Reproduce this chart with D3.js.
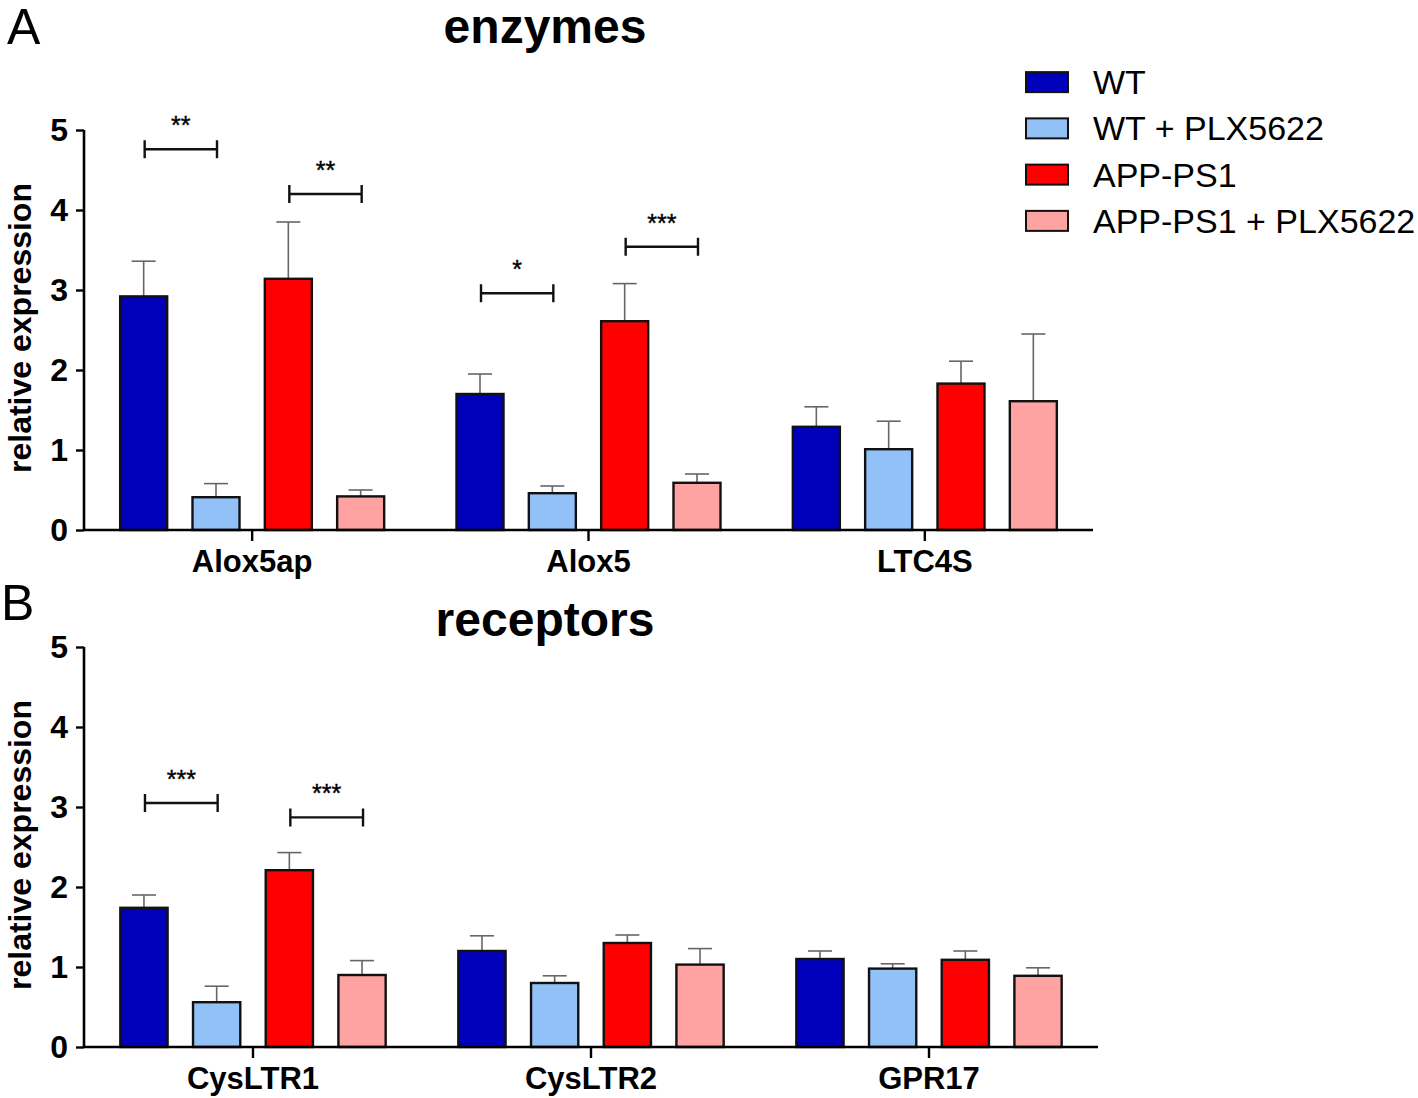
<!DOCTYPE html>
<html><head><meta charset="utf-8">
<script src="https://cdn.jsdelivr.net/npm/d3@7"></script>
<style>body{margin:0;background:#fff}svg{display:block}</style>
</head><body>
<svg id="c" width="1418" height="1098"></svg>
<script>
const series = ["WT", "WT + PLX5622", "APP-PS1", "APP-PS1 + PLX5622"];
const colors = ["#0000BB", "#92C1F8", "#FF0000", "#FFA2A2"];
const yTicks = [0, 1, 2, 3, 4, 5];

const enzymeGenes = ["Alox5ap", "Alox5", "LTC4S"];
const enzymeMeans = [[2.92, 0.41, 3.14, 0.42], [1.70, 0.46, 2.61, 0.59], [1.29, 1.01, 1.83, 1.61]];
const enzymeSEM = [[0.44, 0.17, 0.71, 0.08], [0.25, 0.09, 0.47, 0.11], [0.25, 0.35, 0.28, 0.84]];
const enzymeSig = [
  {g: 0, a: 0, b: 1, y: 4.76, label: "**"},
  {g: 0, a: 2, b: 3, y: 4.20, label: "**"},
  {g: 1, a: 0, b: 1, y: 2.96, label: "*"},
  {g: 1, a: 2, b: 3, y: 3.54, label: "***"}
];

const receptorGenes = ["CysLTR1", "CysLTR2", "GPR17"];
const receptorMeans = [[1.74, 0.56, 2.21, 0.90], [1.20, 0.80, 1.30, 1.03], [1.10, 0.98, 1.09, 0.89]];
const receptorSEM = [[0.16, 0.20, 0.22, 0.18], [0.19, 0.09, 0.10, 0.20], [0.10, 0.06, 0.11, 0.10]];
const receptorSig = [
  {g: 0, a: 0, b: 1, y: 3.05, label: "***"},
  {g: 0, a: 2, b: 3, y: 2.87, label: "***"}
];

const svg = d3.select("#c");
const FONT = "'Liberation Sans', Arial, sans-serif";

function panel(opt) {
  const {genes, means, sem, sig, x0, x1End, yTop, yBottom, title, titleY, letter, letterX, letterY} = opt;
  const g = svg.append("g");
  const y = d3.scaleLinear().domain([0, 5]).range([yBottom, yTop]);
  const xg = d3.scaleBand().domain(genes).range([x0, x1End]).padding(0);
  const xs = d3.scaleBand().domain(d3.range(series.length)).range([0, xg.bandwidth()])
    .paddingInner(0.35).paddingOuter(0.5);

  // error bars
  genes.forEach((gene, gi) => {
    means[gi].forEach((m, si) => {
      const cx = xg(gene) + xs(si) + xs.bandwidth() / 2;
      const top = y(m + sem[gi][si]);
      g.append("line").attr("x1", cx).attr("x2", cx).attr("y1", y(m)).attr("y2", top)
        .attr("stroke", "#666").attr("stroke-width", 1.6);
      g.append("line").attr("x1", cx - 12).attr("x2", cx + 12).attr("y1", top).attr("y2", top)
        .attr("stroke", "#666").attr("stroke-width", 1.6);
    });
  });
  // bars
  genes.forEach((gene, gi) => {
    g.selectAll(null).data(means[gi]).enter().append("rect")
      .attr("x", (d, si) => xg(gene) + xs(si))
      .attr("width", xs.bandwidth())
      .attr("y", d => y(d))
      .attr("height", d => y(0) - y(d))
      .attr("fill", (d, si) => colors[si])
      .attr("stroke", "#111").attr("stroke-width", 2.4);
  });

  // y axis
  const ya = g.append("g").attr("transform", `translate(${x0},0)`)
    .call(d3.axisLeft(y).tickValues(yTicks).tickFormat(d3.format("d")).tickSize(8).tickPadding(8));
  ya.select(".domain").attr("stroke", "#000").attr("stroke-width", 2.6).attr("d", `M0,${yBottom}V${yTop}`);
  ya.selectAll(".tick line").attr("stroke", "#000").attr("stroke-width", 2.4);
  ya.selectAll(".tick text").attr("font-family", FONT).attr("font-weight", "bold")
    .attr("font-size", 32).attr("fill", "#000");

  // x axis
  const xa = g.append("g").attr("transform", `translate(0,${yBottom})`)
    .call(d3.axisBottom(xg).tickSize(11).tickPadding(9));
  xa.select(".domain").attr("stroke", "#000").attr("stroke-width", 2.6).attr("d", `M${x0},0H${x1End}`);
  xa.selectAll(".tick line").attr("stroke", "#000").attr("stroke-width", 2.4);
  xa.selectAll(".tick text").attr("font-family", FONT).attr("font-weight", "bold")
    .attr("font-size", 31).attr("fill", "#000");

  // y title
  g.append("text").attr("transform", `translate(31,${(yTop + yBottom) / 2 - 2}) rotate(-90)`)
    .attr("text-anchor", "middle").attr("font-family", FONT).attr("font-weight", "bold")
    .attr("font-size", 32).text("relative expression");

  // title
  g.append("text").attr("x", 545).attr("y", titleY).attr("text-anchor", "middle")
    .attr("font-family", FONT).attr("font-weight", "bold").attr("font-size", 48).text(title);
  // panel letter
  g.append("text").attr("x", letterX).attr("y", letterY)
    .attr("font-family", FONT).attr("font-size", 50).text(letter);

  // significance brackets
  sig.forEach(s => {
    const gene = genes[s.g];
    const xa1 = xg(gene) + xs(s.a) + xs.bandwidth() / 2 + 1;
    const xb1 = xg(gene) + xs(s.b) + xs.bandwidth() / 2 + 1;
    const yy = y(s.y);
    g.append("path").attr("d", `M${xa1},${yy - 9}V${yy + 9}M${xa1},${yy}H${xb1}M${xb1},${yy - 9}V${yy + 9}`)
      .attr("fill", "none").attr("stroke", "#111").attr("stroke-width", 2.4);
    g.append("text").attr("x", (xa1 + xb1) / 2).attr("y", yy - 15).attr("text-anchor", "middle")
      .attr("font-family", FONT).attr("font-size", 25).attr("stroke", "#000").attr("stroke-width", 0.4)
      .text(s.label);
  });
}

panel({genes: enzymeGenes, means: enzymeMeans, sem: enzymeSEM, sig: enzymeSig,
  x0: 84, x1End: 1093, yTop: 130, yBottom: 530, title: "enzymes", titleY: 43,
  letter: "A", letterX: 7, letterY: 44});
panel({genes: receptorGenes, means: receptorMeans, sem: receptorSEM, sig: receptorSig,
  x0: 84, x1End: 1098, yTop: 647, yBottom: 1047, title: "receptors", titleY: 636,
  letter: "B", letterX: 1, letterY: 620});

// legend
const leg = svg.append("g");
const ly = d3.scaleBand().domain(d3.range(series.length)).range([59, 244]);
series.forEach((s, i) => {
  const cy = ly(i) + ly.bandwidth() / 2;
  leg.append("rect").attr("x", 1026).attr("y", cy - 10).attr("width", 42).attr("height", 20)
    .attr("fill", colors[i]).attr("stroke", "#111").attr("stroke-width", 2);
  leg.append("text").attr("x", 1093).attr("y", cy + 12).attr("font-family", FONT)
    .attr("font-size", 34).text(s);
});
</script>
</body></html>
